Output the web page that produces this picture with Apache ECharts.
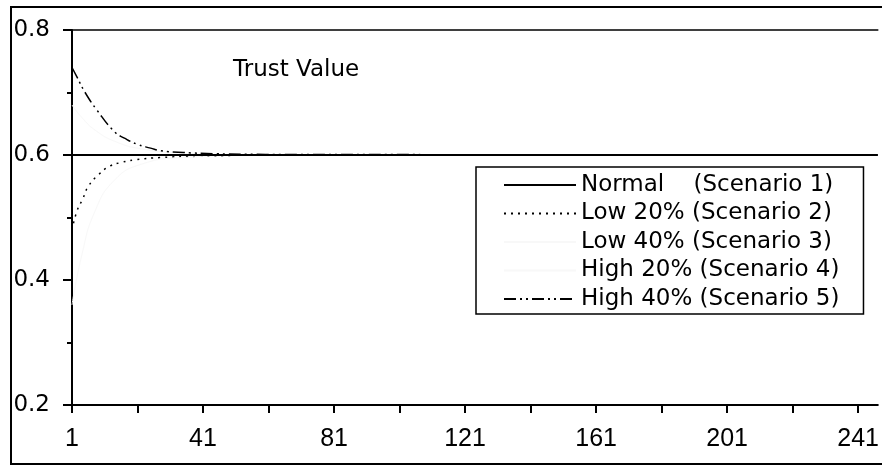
<!DOCTYPE html>
<html>
<head>
<meta charset="utf-8">
<script src="https://cdn.jsdelivr.net/npm/echarts@6/dist/echarts.min.js"></script>
<style>
  html, body { margin: 0; padding: 0; background: #fff; }
  #chart { width: 882px; height: 466px; }
</style>
</head>
<body>
<div id="chart"></div>
<script>
// legend names
var names = [
  "Normal    (Scenario 1)",
  "Low 20% (Scenario 2)",
  "Low 40% (Scenario 3)",
  "High 20% (Scenario 4)",
  "High 40% (Scenario 5)"
];

// [time step, trust value]
var normal = [[1, 0.6], [247, 0.6]];
var low20 = [[1, 0.48], [2.5, 0.51], [4.3, 0.53], [6, 0.55], [9, 0.568], [12.5, 0.582],
  [16, 0.588], [20, 0.592], [28, 0.596], [40, 0.598], [60, 0.6], [247, 0.6]];
// scenario 3 and 4 are almost invisible in the scan
var low40 = [[1, 0.36], [4, 0.44], [8, 0.51], [14, 0.56], [22, 0.585], [35, 0.596], [60, 0.6], [247, 0.6]];
var high20 = [[1, 0.68], [4, 0.66], [8, 0.64], [14, 0.622], [22, 0.61], [35, 0.603], [60, 0.6], [247, 0.6]];
var high40 = [[1, 0.74], [2.5, 0.725], [5, 0.7], [8.6, 0.672], [14, 0.637], [17, 0.627],
  [21, 0.617], [25, 0.611], [28, 0.607], [35, 0.604], [45, 0.602], [60, 0.601], [247, 0.6]];

var yTicks = [0.2, 0.4, 0.6, 0.8];

var font = "DejaVu Sans";
var numFont = "Liberation Sans";

function line(name, data, color, width, type) {
  return {
    name: name,
    type: "line",
    data: data,
    smooth: true,
    symbol: "none",
    silent: true,
    lineStyle: { color: color, width: width, type: type },
    itemStyle: { color: color },
    z: name == names[0] ? 3 : 2
  };
}

var chart = echarts.init(document.getElementById("chart"));
chart.setOption({
  animation: false,
  backgroundColor: "#fff",
  textStyle: { fontFamily: font, color: "#000" },
  grid: { left: 72, right: 0, top: 30, bottom: 61 },
  graphic: [
    {
      type: "rect",
      shape: { x: 11, y: 7, width: 900, height: 457 },
      style: { fill: "none", stroke: "#000", lineWidth: 2 }
    },
    {
      type: "text",
      left: 233,
      top: 59,
      style: { text: "Trust Value", font: "23px " + font, fill: "#000" }
    }
  ],
  legend: {
    orient: "vertical",
    left: 476,
    top: 167,
    padding: [4, 24, 1, 27],
    itemWidth: 72,
    itemHeight: 12,
    itemGap: 0.5,
    selectedMode: false,
    borderColor: "#000",
    borderWidth: 1.5,
    itemStyle: { opacity: 0 },
    textStyle: { fontSize: 23, lineHeight: 28, color: "#000", fontFamily: font },
    data: names
  },
  xAxis: [
    {
      type: "value",
      min: 1,
      max: 247,
      interval: 20,
      axisLine: { lineStyle: { color: "#000", width: 2 } },
      axisTick: { length: 8, lineStyle: { color: "#000", width: 2 } },
      axisLabel: {
        margin: 22,
        fontSize: 25,
        fontFamily: numFont,
        color: "#000",
        showMaxLabel: false,
        formatter: function (v) { return (v - 1) % 40 == 0 ? String(v) : ""; }
      },
      splitLine: { show: false }
    },
    {
      type: "value",
      position: "top",
      min: 1,
      max: 247,
      axisLine: { show: true, onZero: false, lineStyle: { color: "#000", width: 1.5 } },
      axisTick: { show: false },
      axisLabel: { show: false },
      splitLine: { show: false }
    }
  ],
  yAxis: {
    type: "value",
    min: yTicks[0],
    max: yTicks[yTicks.length - 1],
    interval: 0.2,
    axisLine: { show: true, lineStyle: { color: "#000", width: 2 } },
    axisTick: { show: true, length: 9, lineStyle: { color: "#000", width: 2 } },
    minorTick: { show: true, splitNumber: 2, length: 5, lineStyle: { color: "#000", width: 2 } },
    axisLabel: {
      margin: 22,
      fontSize: 23,
      color: "#000",
      formatter: function (v) { return v.toFixed(1); }
    },
    splitLine: { show: false }
  },
  series: [
    line(names[0], normal, "#000", 2, "solid"),
    line(names[1], low20, "#000", 1.5, [2, 5]),
    line(names[2], low40, "#f8f8f8", 1, "solid"),
    line(names[3], high20, "#f8f8f8", 1, "solid"),
    line(names[4], high40, "#000", 1.5, [12, 4, 2, 4, 2, 4])
  ]
});
</script>
</body>
</html>
